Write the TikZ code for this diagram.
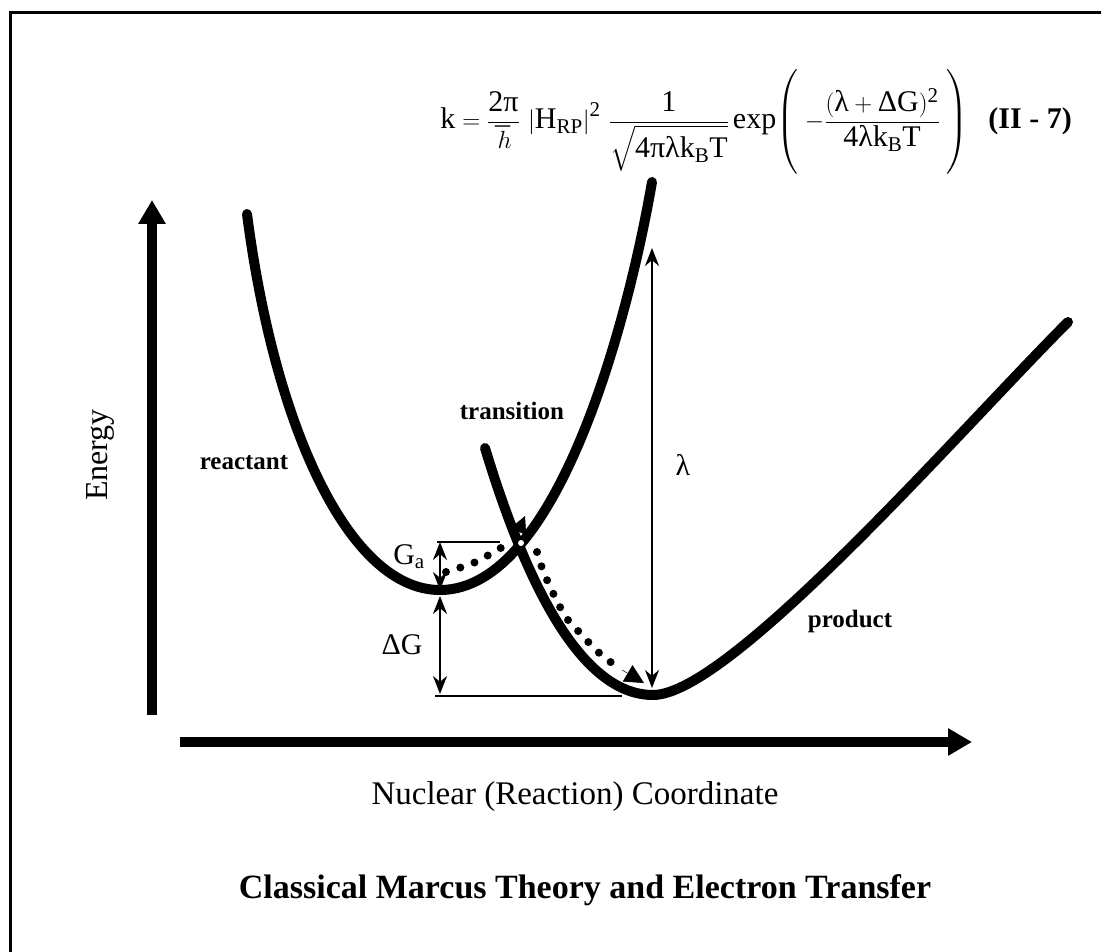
\documentclass[tikz,border=0pt]{standalone}
\usepackage{amsmath}
\usepackage{fontspec}
\setmainfont{Liberation Serif}
\usetikzlibrary{arrows.meta}
\tikzset{
  axis/.style={line width=10pt,-{Triangle[length=24pt,width=26pt]}},
  curve/.style={line width=10pt,line cap=round},
  thinline/.style={line width=2pt},
  dim/.style={line width=2pt,{Stealth[length=18pt,width=14pt]}-{Stealth[length=18pt,width=14pt]}},
  dots/.style={line width=8pt,line cap=round,dash pattern=on 0pt off 15pt},
  lab/.style={font=\fontsize{25}{30}\selectfont\bfseries,inner sep=0pt},
  big/.style={font=\fontsize{30}{36}\selectfont,inner sep=0pt}
}
\begin{document}
\begin{tikzpicture}[x=1pt,y=-1pt]
\useasboundingbox (0,0) rectangle (1101,952);
% frame
\draw[line width=3pt] (1101,13) -- (10,13) -- (10,952);
% formula
\node[anchor=east,inner sep=0pt,font=\fontsize{30}{36}\selectfont] (formula) at (1072,122)
{$\displaystyle \text{k}=\frac{\text{2π}}{\hbar}\,\left|\text{H}_{\text{RP}}\right|^{\text{2}}\,\frac{\text{1}}{\sqrt{\vrule height 24pt depth 9pt width 0pt\text{4πλk}_{\text{B}}\text{T}}}\,\text{exp}\!\left(\vrule height 50pt depth 44pt width 0pt\;-\frac{(\text{λ}+\text{ΔG})^{\text{2}}}{\text{4λk}_{\text{B}}\text{T}}\;\right)$\hspace{20pt}\textbf{(II - 7)}};
% axes
\coordinate (y0) at (152,715);
\coordinate (y1) at (152,200);
\coordinate (x0) at (180,742);
\coordinate (x1) at (972,742);
\draw[axis] (y0) -- (y1);
\draw[axis] (x0) -- (x1);
\node[big,font=\fontsize{32}{38}\selectfont,rotate=90] (energy) at (100,455) {Energy};
\node[big,font=\fontsize{33}{40}\selectfont] (xlabel) at (575,797) {Nuclear (Reaction) Coordinate};
\node[font=\fontsize{34}{40}\selectfont\bfseries,inner sep=0pt] (title) at (585,890) {Classical Marcus Theory and Electron Transfer};
% reactant curve
\draw[curve] (247,214) .. controls (275,430) and (350,590) .. (440,590)
                       .. controls (560,590) and (630,310) .. (652,182);
% product curve
\draw[curve] (485,448) .. controls (525,580) and (580,695) .. (653,695)
                       .. controls (730,695) and (960,430) .. (1068,322);
% labels
\node[lab] (reactant) at (244,463) {reactant};
\node[lab] (transition) at (512,411) {transition};
\node[lab] (product) at (850,621) {product};
% lambda
\coordinate (l0) at (652,688);
\coordinate (l1) at (652,248);
\draw[dim] (l0) -- (l1);
\node[big] (lam) at (683,465) {λ};
% Ga and Delta G
\coordinate (ga0) at (440,590);
\coordinate (ga1) at (440,542);
\coordinate (dg0) at (440,596);
\coordinate (dg1) at (440,694);
\draw[dim] (ga0) -- (ga1);
\draw[dim] (dg0) -- (dg1);
\coordinate (h1a) at (437,542);
\coordinate (h1b) at (500,542);
\coordinate (h2a) at (435,696);
\coordinate (h2b) at (622,696);
\draw[thinline] (h1a) -- (h1b);
\draw[thinline] (h2a) -- (h2b);
\node[big] (galab) at (409,557) {G\textsubscript{a}};
\node[big] (dglab) at (402,645) {ΔG};
% dotted path
\draw[dots] plot[smooth] coordinates {(446,572) (462,567) (478,561) (492,553) (506,545)};
\coordinate (a1s) at (516,537);
\coordinate (a1e) at (525,516);
\draw[line width=0.5pt,-{Triangle[length=17pt,width=17pt]}] (a1s) -- (a1e);
\draw[dots] plot[smooth] coordinates {(537,552) (541,565) (547,580) (553,593) (560,607) (568,620) (580,633) (593,647) (605,658) (618,667)};
\coordinate (a2s) at (622,670);
\coordinate (a2e) at (644,683);
\draw[line width=0.5pt,-{Triangle[length=19pt,width=19pt]}] (a2s) -- (a2e);
\fill[white] (521,543) circle (3);
\end{tikzpicture}
\end{document}
